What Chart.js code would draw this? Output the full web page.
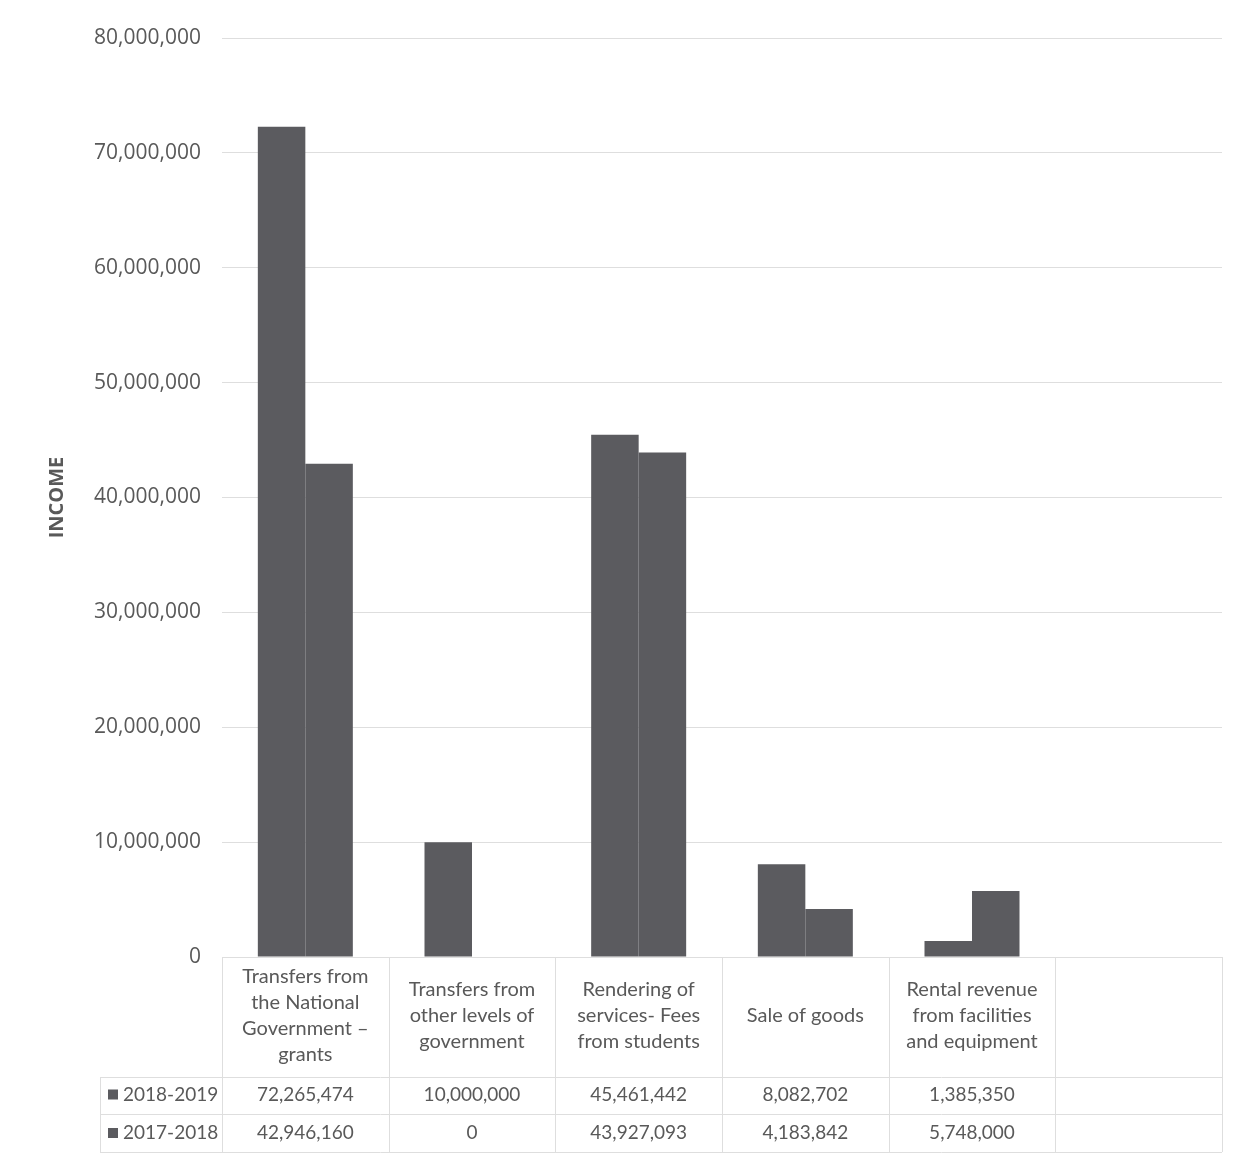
<!DOCTYPE html>
<html>
<head>
<meta charset="utf-8">
<script src="https://cdn.jsdelivr.net/npm/chart.js@4"></script>
<style>
  html, body { margin: 0; padding: 0; background: #fff; }
  #wrap { width: 1260px; height: 1160px; }
</style>
</head>
<body>
<div id="wrap"><canvas id="incomeChart" width="1260" height="1160"></canvas></div>
<script>
// Income by source, two financial years
const categories = [
  ["Transfers from", "the National", "Government –", "grants"],
  ["Transfers from", "other levels of", "government"],
  ["Rendering of", "services- Fees", "from students"],
  "Sale of goods",
  ["Rental revenue", "from facilities", "and equipment"],
  ""
];
const seriesNames = ["2018-2019", "2017-2018"];
const income2018 = [72265474, 10000000, 45461442, 8082702, 1385350, null];
const income2017 = [42946160, 0, 43927093, 4183842, 5748000, null];
const yTicks = [0, 10000000, 20000000, 30000000, 40000000, 50000000, 60000000, 70000000, 80000000];

const barColor = "#5b5b5f";
const textColor = "#595959";
const lineColor = "#dedede";

function fmt(v) {
  return v == null ? "" : v.toLocaleString("en-US");
}

// draws the data table under the x axis (grid lines, legend keys, values)
const dataTable = {
  id: "dataTable",
  afterDraw(chart) {
    const ctx = chart.ctx;
    const x = chart.scales.x;
    const area = chart.chartArea;
    const n = categories.length;
    const colW = (area.right - area.left) / n;
    const rowTop = 1077, rowMid = 1114, rowBot = 1152, keyLeft = 100;
    ctx.save();
    ctx.strokeStyle = lineColor;
    ctx.lineWidth = 1;
    ctx.beginPath();
    for (let i = 0; i <= n; i++) {
      const bx = Math.round(area.left + i * colW) + 0.5;
      ctx.moveTo(bx, area.bottom);
      ctx.lineTo(bx, rowBot);
    }
    ctx.moveTo(keyLeft + 0.5, rowTop);
    ctx.lineTo(keyLeft + 0.5, rowBot);
    [rowTop, rowMid, rowBot].forEach((y) => {
      ctx.moveTo(keyLeft, y + 0.5);
      ctx.lineTo(area.right, y + 0.5);
    });
    ctx.stroke();

    ctx.font = "19px Lato, 'Open Sans', sans-serif";
    ctx.textBaseline = "middle";
    const rows = [income2018, income2017];
    const rowY = [(rowTop + rowMid) / 2 - 1, (rowMid + rowBot) / 2];
    rows.forEach((vals, r) => {
      ctx.fillStyle = barColor;
      ctx.fillRect(108, rowY[r] - 5, 10, 10);
      ctx.fillStyle = textColor;
      ctx.textAlign = "left";
      ctx.fillText(seriesNames[r], 123, rowY[r]);
      ctx.textAlign = "center";
      vals.forEach((v, i) => {
        ctx.fillText(fmt(v), x.getPixelForValue(i), rowY[r]);
      });
    });
    ctx.restore();
  }
};

const whiteBg = {
  id: "whiteBg",
  beforeDraw(chart) {
    const ctx = chart.ctx;
    ctx.save();
    ctx.fillStyle = "#ffffff";
    ctx.fillRect(0, 0, chart.width, chart.height);
    ctx.restore();
  }
};

new Chart(document.getElementById("incomeChart"), {
  type: "bar",
  data: {
    labels: categories,
    datasets: [
      { label: seriesNames[0], data: income2018, backgroundColor: barColor },
      { label: seriesNames[1], data: income2017, backgroundColor: barColor }
    ]
  },
  options: {
    responsive: false,
    animation: false,
    layout: { padding: { left: 45, right: 38, top: 38, bottom: 0 } },
    plugins: {
      legend: { display: false },
      tooltip: { enabled: false }
    },
    datasets: { bar: { categoryPercentage: 0.57, barPercentage: 1 } },
    scales: {
      x: {
        afterFit: (s) => { s.height = 203; },
        grid: { display: false },
        border: { color: lineColor },
        ticks: {
          color: textColor,
          crossAlign: "center",
          padding: 12,
          maxRotation: 0,
          autoSkip: false,
          font: { family: "Lato, 'Open Sans', sans-serif", size: 20, lineHeight: "26px" }
        }
      },
      y: {
        min: 0,
        max: 80000000,
        afterFit: (s) => { s.width = 177; },
        afterBuildTicks: (s) => { s.ticks = yTicks.map((v) => ({ value: v })); },
        grid: { color: lineColor, drawTicks: false },
        border: { display: false },
        title: {
          display: true,
          text: "INCOME",
          color: textColor,
          padding: 0,
          font: { family: "'Open Sans', sans-serif", size: 20, weight: "bold" }
        },
        ticks: {
          color: textColor,
          padding: 21,
          font: { family: "'Open Sans', sans-serif", size: 21 },
          callback: (v) => v.toLocaleString("en-US")
        }
      }
    }
  },
  plugins: [whiteBg, dataTable]
});
</script>
</body>
</html>
